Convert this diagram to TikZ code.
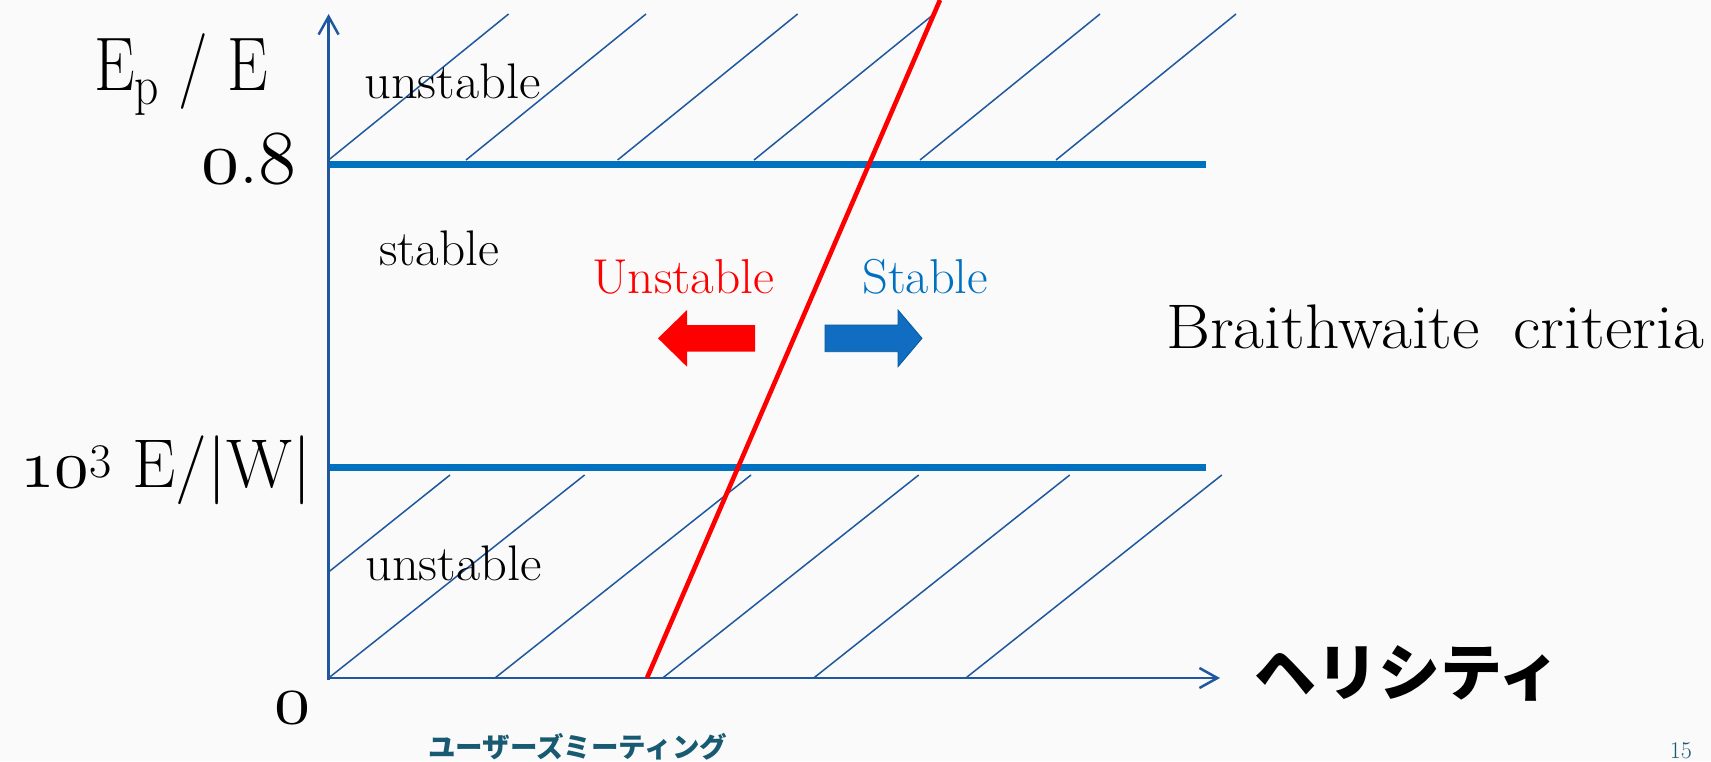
\documentclass[tikz,border=0pt]{standalone}
\usepackage{fontspec}
\usetikzlibrary{arrows.meta}
\newfontfamily\jpfont{Noto Sans CJK JP}
\DeclareFontFamily{OML}{osfm}{\skewchar\font127}
\DeclareFontShape{OML}{osfm}{m}{it}{<-> cmmi10}{}
\newcommand\osf[1]{{\fontencoding{OML}\fontfamily{osfm}\fontseries{m}\fontshape{it}\selectfont #1}}
\newcommand\wtext[3]{\scalebox{#1}[1]{\fontsize{#2}{#2}\selectfont #3}}
\definecolor{axisblue}{RGB}{31,88,158}
\definecolor{lineblue}{RGB}{0,112,192}
\definecolor{arrowblue}{RGB}{17,109,194}
\definecolor{footteal}{RGB}{24,90,114}
\begin{document}
\begin{tikzpicture}[x=1pt,y=-1pt,
    axis/.style={axisblue, line width=2.5pt, -{Straight Barb[length=18pt,width=20pt]}},
    level/.style={lineblue, line width=7pt},
    hatch/.style={axisblue, line width=1.5pt},
    lbl/.style={inner sep=0pt, anchor=base west}]
    \fill[white!98!black] (0,0) rectangle (1711,761);
    \useasboundingbox (0,0) rectangle (1711,761);

    \coordinate (O) at (328.6,680);
    \coordinate (ytop) at (328.6,14);
    \coordinate (xend) at (1220,678);
    \coordinate (hi) at (328.6,164);
    \coordinate (lo) at (328.6,467);

    % Hatching
    \foreach \x in {328.6,466,617.6,754,920,1056}
        \draw[hatch] (\x,160) -- ++(180,-146);
    \draw[hatch] (328.6,572) -- (450,475);
    \foreach \x in {328.6,495,662.7,813.7,965.8}
        \draw[hatch] (\x,678) -- ++(256,-203);

    % Levels
    \draw[level] (hi) -- (1206,164);
    \draw[level] (lo) -- (1206,467);

    % Axes
    \draw[axis] (O) -- (ytop);
    \draw[axis] (328.6,678) -- (xend);

    % Criterion line
    \coordinate (cbot) at (647,678);
    \coordinate (ctop) at (940,0);
    \draw[red, line width=4.6pt] (cbot) -- (ctop);

    % Direction arrows
    \fill[red] (755,325) -- (687,325) -- (687,310) -- (658,338.3)
        -- (687,366.7) -- (687,351.7) -- (755,351.7) -- cycle;
    \filldraw[fill=arrowblue, draw=lineblue!80!black, line width=0.8pt]
        (825,325) -- (898,325) -- (898,310) -- (922,338.3)
        -- (898,366.7) -- (898,351.7) -- (825,351.7) -- cycle;

    % Labels
    \node[lbl] (epe) at (94,90) {\scalebox{0.85}[1]{\fontsize{76}{76}\selectfont E\raisebox{-14pt}{\fontsize{56}{56}\selectfont p} / E}};
    \node[lbl, anchor=base east] (tick08) at (297,183) {\fontsize{76}{76}\selectfont\osf{0}.\osf{8}};
    \node[lbl, anchor=base east] (tickew) at (312,487) {\fontsize{69}{69}\selectfont\osf{10}\textsuperscript{3} E/|W|};
    \node[lbl, anchor=base east] (tick0) at (311,723) {\fontsize{72}{72}\selectfont\osf{0}};

    \node[lbl] (unstup) at (364,98) {\wtext{1.05}{50}{unstable}};
    \node[lbl] (stab) at (379,265) {\wtext{1.025}{50}{stable}};
    \node[lbl] (unstlo) at (365,580) {\wtext{1.05}{50}{unstable}};

    \node[lbl, text=red] (unsleft) at (592,293) {\wtext{1.05}{49}{Unstable}};
    \node[lbl, text=lineblue] (stabright) at (862,293) {\wtext{1.03}{49}{Stable}};

    \node[lbl] (brait) at (1166,348) {\wtext{1.067}{63}{Braithwaite\hspace{0.5em}criteria}};
    \node[inner sep=0pt, anchor=west] (heli) at (1254,673) {\fontsize{62}{62}\selectfont\jpfont\bfseries ヘリシティ};

    \node[lbl, text=footteal] (foot) at (428,757) {\fontsize{27.5}{27.5}\selectfont\jpfont\bfseries ユーザーズミーティング};
    \node[lbl, anchor=base east, text=footteal] (page) at (1692,758) {\fontsize{24}{24}\selectfont 15};
\end{tikzpicture}
\end{document}
